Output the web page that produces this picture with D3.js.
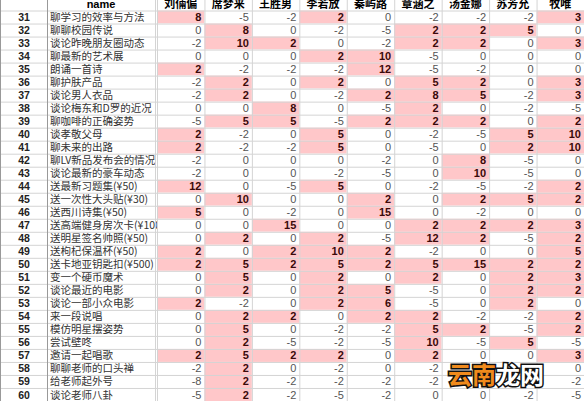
<!DOCTYPE html>
<html><head><meta charset="utf-8">
<script src="https://cdn.jsdelivr.net/npm/d3@7"></script>
<style>body{margin:0;background:#fff}svg{display:block}</style>
</head><body><svg id="c" width="584" height="401"></svg>
<script>
const people=["刘倆偏","席梦来","王胜男","李若放","秦屿路","章涵之","汤金娜","苏芳允","牧唯"];
const rowNums=d3.range(31,61);
const names=["聊学习的效率与方法","聊聊校园传说","谈论昨晚朋友圈动态","聊最新的艺术展","朗诵一首诗","聊护肤产品","谈论男人衣品","谈论梅东和D罗的近况","聊咖啡的正确姿势","谈孝敬父母","聊未来的出路","聊LV新品发布会的情况","谈论最新的豪车动态","送最新习题集(¥50)","送一次性大头贴(¥30)","送西川诗集(¥50)","送高端健身房次卡(¥100)","送明星签名帅照(¥50)","送枸杞保温杯(¥50)","送卡地亚钥匙扣(¥500)","变一个硬币魔术","谈论最近的电影","谈论一部小众电影","来一段说唱","模仿明星摆姿势","尝试壁咚","邀请一起唱歌","聊聊老师的口头禅","给老师起外号","谈论老师八卦"];
const values=[
[8,-5,-2,2,0,-2,-2,-2,3],[0,8,0,-2,-5,2,2,5,0],[-2,10,2,0,-2,2,2,0,3],[0,0,0,2,10,-5,0,0,0],
[2,-2,-2,-2,12,-5,-2,0,0],[-2,2,0,2,0,5,2,0,3],[-2,2,0,-2,2,8,5,-2,3],[0,0,8,0,-5,2,0,-2,-5],
[-5,5,5,-5,2,2,2,0,2],[2,-2,0,5,0,-2,-5,5,10],[2,-2,-2,5,0,-5,0,2,10],[-2,0,0,0,-2,0,8,-5,0],
[-2,0,0,-2,-5,0,10,-5,0],[12,0,-5,5,0,-2,-5,-2,2],[0,10,0,0,2,0,2,5,2],[5,0,-2,0,15,0,-2,0,0],
[0,0,15,0,0,2,2,2,3],[0,2,0,2,-5,12,2,-5,2],[2,0,2,10,2,-2,0,0,5],[2,5,2,5,2,5,15,2,2],
[0,5,0,2,0,2,0,2,3],[0,2,0,2,5,-5,0,2,2],[2,-2,0,2,6,-5,0,2,0],[0,2,2,0,2,2,-2,-2,2],
[0,5,0,-2,-2,5,2,-5,2],[0,2,-5,-2,-5,10,-5,5,-5],[2,5,2,2,0,2,0,0,3],[-2,2,0,-2,0,-2,-2,-2,0],
[-8,2,-2,-2,-2,-2,-2,-2,-2],[-5,2,-2,-5,-2,0,0,-2,-5]];
const svg=d3.select("#c");
const x=d3.scaleBand().domain(people).range([157,584]);
const y=d3.scaleBand().domain(["h"].concat(rowNums)).range([-2.5,401]);
const bw=x.bandwidth(),bh=y.bandwidth();
const grid="#d4d4d4";
// header
const hy=y("h");
svg.append("text").attr("x",101).attr("y",hy+bh-3).attr("text-anchor","middle").attr("font-family","Liberation Sans, Arial").attr("font-weight","bold").attr("font-size",11).text("name");
people.forEach(p=>{svg.append("text").attr("x",x(p)+bw/2).attr("y",hy+bh-3).attr("text-anchor","middle").attr("font-family","Noto Sans CJK SC").attr("font-weight","bold").attr("font-size",11).text(p);});
// names & row numbers
rowNums.forEach((r,i)=>{
  const yy=y(r);
  svg.append("text").attr("x",24).attr("y",yy+bh-2.5).attr("text-anchor","middle").attr("font-family","Liberation Sans, Arial").attr("font-weight","bold").attr("font-size",10.5).attr("fill","#222").text(r);
  svg.append("text").attr("x",50).attr("y",yy+bh-2.5).attr("font-family","Noto Sans CJK SC").attr("font-size",10.5).attr("fill","#333").text(names[i]);
  values[i].forEach((v,j)=>{
    const p=people[j];
    svg.append("rect").attr("x",x(p)).attr("y",yy).attr("width",bw).attr("height",bh).attr("fill",v>0?"#ffc7c9":"#fff");
    svg.append("text").attr("x",x(p)+bw-3).attr("y",yy+bh-2.5).attr("text-anchor","end").attr("font-family","Liberation Sans, Arial").attr("font-size",11).attr("font-weight",v>0?"bold":"normal").attr("fill",v>0?"#3a0a0a":"#555").text(v);
  });
});
// grid lines
const allRows=["h"].concat(rowNums);
allRows.forEach(r=>svg.append("line").attr("x1",0).attr("x2",584).attr("y1",y(r)+bh+0.5).attr("y2",y(r)+bh+0.5).attr("stroke",grid));
[0.5,47.5,155.5].concat(people.map(p=>x(p)+0.5)).forEach(xx=>svg.append("line").attr("x1",xx).attr("x2",xx).attr("y1",0).attr("y2",401).attr("stroke",xx<50?"#999":grid));
// watermark
const wm=svg.append("text").attr("x",448).attr("y",384).attr("font-family","Noto Sans CJK SC").attr("font-weight","bold").attr("font-size",24).attr("stroke","#111").attr("stroke-width",3).attr("paint-order","stroke");
wm.append("tspan").attr("fill","#f08a1c").text("云南");
wm.append("tspan").attr("fill","#fff").text("龙网");
</script></body></html>
